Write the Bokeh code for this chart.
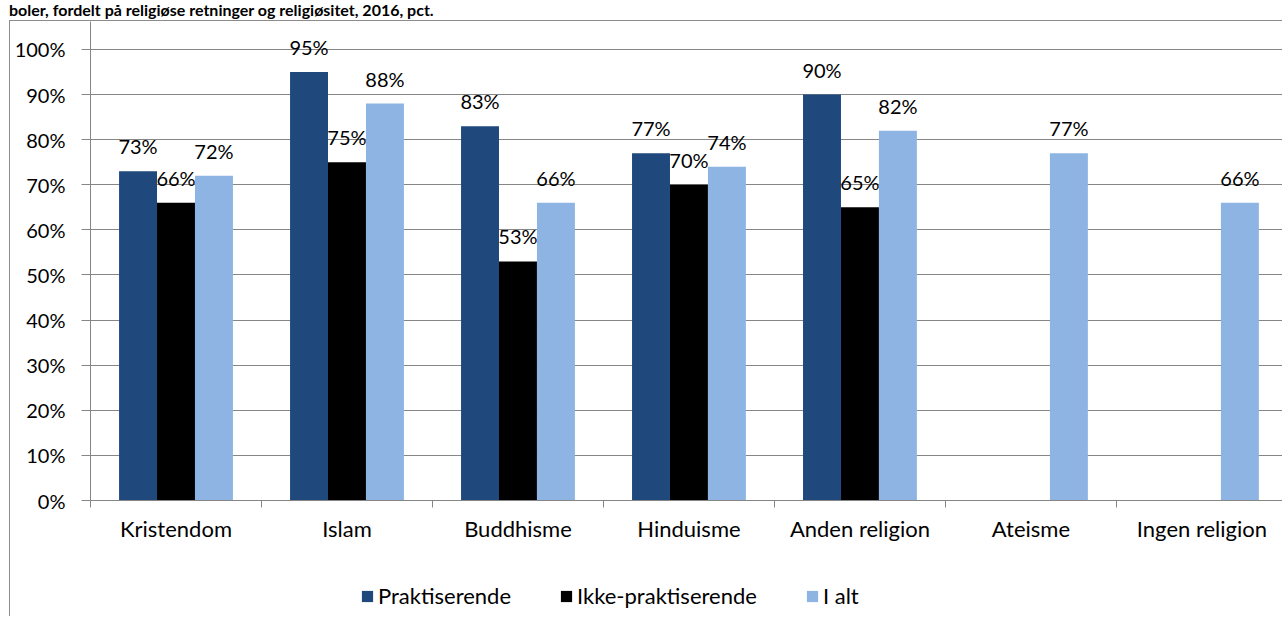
from bokeh.plotting import figure
from bokeh.models import Range1d, FixedTicker, Legend, LegendItem, ColumnDataSource, Div
from bokeh.layouts import column
from bokeh.core.properties import value
from bokeh.embed import file_html
from bokeh.resources import INLINE

title_text = "boler, fordelt på religiøse retninger og religiøsitet, 2016, pct."
categories = ["Kristendom", "Islam", "Buddhisme", "Hinduisme", "Anden religion", "Ateisme", "Ingen religion"]
series_names = ["Praktiserende", "Ikke-praktiserende", "I alt"]
praktiserende = [73, 95, 83, 77, 90, None, None]
ikke_praktiserende = [66, 75, 53, 70, 65, None, None]
i_alt = [72, 88, 66, 74, 82, 77, 66]
y_ticks = [0, 10, 20, 30, 40, 50, 60, 70, 80, 90, 100]
y_tick_labels = [f"{t}%" for t in y_ticks]

colors = ["#1F497D", "#000000", "#8EB4E3"]
FONT = "Lato"
GRAY = "#868686"
BORDER = "1px solid #8c8c8c"
bar_w = 0.222
offsets = [-bar_w, 0.0, bar_w]

p = figure(width=1273, height=529, x_range=Range1d(0, 6.977), y_range=Range1d(0, 106.2),
           output_backend="svg", toolbar_location=None,
           min_border_left=80, min_border_right=0, min_border_top=0, min_border_bottom=50)
p.margin = (0, 0, 0, 9)
p.outline_line_color = None
p.background_fill_color = "white"
p.border_fill_color = "white"
p.styles = {"border-left": BORDER, "border-top": BORDER}

for vals, off, col in zip([praktiserende, ikke_praktiserende, i_alt], offsets, colors):
    xs, ys, labels = [], [], []
    for i, v in enumerate(vals):
        if v is None:
            continue
        xs.append(i + 0.5 + off)
        ys.append(v)
        labels.append(f"{v}%")
    src = ColumnDataSource(dict(x=xs, top=ys, label=labels))
    p.vbar(x="x", top="top", bottom=0, width=bar_w, source=src, fill_color=col, line_color=None)
    p.text(x="x", y="top", text="label", source=src, text_align="center", text_baseline="alphabetic",
           y_offset=-25, text_font=value(FONT), text_font_size="20px", text_color="black")

# y axis
p.yaxis.ticker = FixedTicker(ticks=y_ticks)
p.yaxis.major_label_overrides = dict(zip(y_ticks, y_tick_labels))
p.yaxis.axis_line_color = GRAY
p.yaxis.major_tick_line_color = GRAY
p.yaxis.major_tick_out = 9
p.yaxis.major_tick_in = 0
p.yaxis.minor_tick_line_color = None
p.yaxis.major_label_standoff = 16
p.yaxis.major_label_text_font = FONT
p.yaxis.major_label_text_font_size = "20px"
p.yaxis.major_label_text_color = "black"

p.ygrid.ticker = FixedTicker(ticks=y_ticks)
p.ygrid.grid_line_color = GRAY
p.xgrid.visible = False

# x axis: labels at centres, ticks at category boundaries
centres = [i + 0.5 for i in range(len(categories))]
bounds = [i for i in range(len(categories) + 1)]
p.xaxis.ticker = FixedTicker(ticks=centres, minor_ticks=bounds)
p.xaxis.major_label_overrides = dict(zip(centres, categories))
p.xaxis.axis_line_color = GRAY
p.xaxis.major_tick_line_color = None
p.xaxis.major_tick_out = 0
p.xaxis.major_tick_in = 0
p.xaxis.minor_tick_line_color = GRAY
p.xaxis.minor_tick_out = 7
p.xaxis.minor_tick_in = 0
p.xaxis.major_label_standoff = 7
p.xaxis.major_label_text_font = FONT
p.xaxis.major_label_text_font_size = "22px"
p.xaxis.major_label_text_color = "black"

# legend strip below the chart (zero-height swatch renderers only feed the legend)
p2 = figure(width=1273, height=67, x_range=Range1d(0, 1), y_range=Range1d(0, 1),
            output_backend="svg", toolbar_location=None, min_border=0,
            x_axis_location=None, y_axis_location=None)
p2.margin = (0, 0, 0, 9)
p2.outline_line_color = None
p2.grid.visible = False
p2.styles = {"border-left": BORDER}
leg_renderers = [p2.vbar(x=[0.5], top=[0], bottom=0, width=0.1, fill_color=c, line_color=None)
                 for c in colors]
legend = Legend(items=[LegendItem(label=n, renderers=[r]) for n, r in zip(series_names, leg_renderers)],
                orientation="horizontal", location=(270, 7), padding=0, margin=0,
                spacing=48, glyph_width=14, glyph_height=14, label_standoff=4, label_height=20,
                label_text_font=FONT, label_text_font_size="22px", label_text_color="black",
                border_line_color=None, background_fill_alpha=0)
p2.add_layout(legend)

title = Div(text=title_text, width=1200, height=20, margin=(0, 0, 0, 9),
            styles={"font-family": FONT, "font-weight": "bold", "font-size": "16px", "color": "black",
                    "line-height": "20px"})

layout = column(title, p, p2, spacing=0)
open("out.html", "w").write(file_html(layout, INLINE))
